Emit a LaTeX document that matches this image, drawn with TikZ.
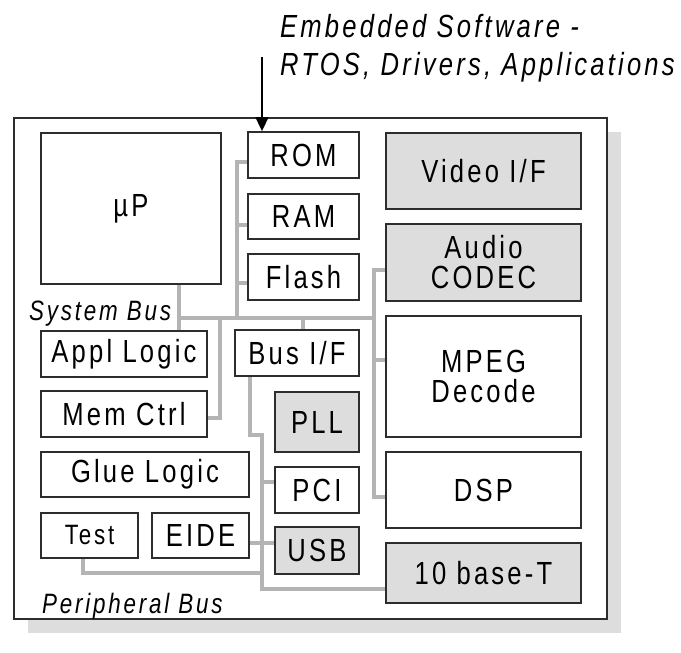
\documentclass[tikz,border=0pt]{standalone}
\usepackage{fontspec}
\setmainfont{Liberation Sans}[FakeStretch=0.8,LetterSpace=10]
\usetikzlibrary{arrows.meta}

\definecolor{boxgray}{RGB}{221,221,221}
\definecolor{busgray}{RGB}{180,180,180}
\definecolor{edgegray}{RGB}{45,45,45}

\tikzset{
	blk/.style={draw=edgegray, line width=1.8pt, fill=white, inner sep=0pt,
		align=center, font=\fontsize{32}{30}\selectfont},
	gblk/.style={blk, fill=boxgray},
	bus/.style={draw=busgray, line width=3.5pt},
	buslabel/.style={inner sep=0pt, anchor=base west,
		font=\fontsize{28}{28}\selectfont\itshape},
	capt/.style={inner sep=0pt, anchor=base west,
		font=\fontsize{32}{32}\selectfont\itshape},
}

\begin{document}
\begin{tikzpicture}[x=1pt, y=-1pt]
	\useasboundingbox (0,0) rectangle (681,653);
	% Chip mit Schatten
	\fill[boxgray] (28,132) rectangle (621,633);
	\filldraw[line width=1.8pt, draw=edgegray, fill=white] (14,118) rectangle
	(607,619);

	% Bloecke links
	\node[blk, minimum width=180pt, minimum height=151pt] (up) at (131,208.5) {µP};
	\node[blk, minimum width=166pt, minimum height=46pt] (appl) at (124,354) {Appl Logic};
	\node[blk, minimum width=166pt, minimum height=46pt] (memctrl) at (124,414) {Mem Ctrl};
	\node[blk, minimum width=208pt, minimum height=45pt] (glue) at (145,474.5) {Glue Logic};
	\node[blk, minimum width=97pt, minimum height=45pt,
		font=\fontsize{28}{28}\selectfont] (test) at (89.5,535.5) {Test};
	\node[blk, minimum width=97pt, minimum height=45pt] (eide) at (200.5,535.5) {EIDE};

	% Bloecke Mitte
	\node[blk, minimum width=111pt, minimum height=46pt] (rom) at (303.5,155) {ROM};
	\node[blk, minimum width=111pt, minimum height=45pt] (ram) at (303.5,216.5) {RAM};
	\node[blk, minimum width=111pt, minimum height=46pt] (flash) at (303.5,277) {Flash};
	\node[blk, minimum width=124pt, minimum height=46pt] (busif) at (297,353) {Bus I/F};
	\node[gblk, minimum width=84pt, minimum height=60pt] (pll) at (317,422) {PLL};
	\node[blk, minimum width=84pt, minimum height=46pt] (pci) at (317,490) {PCI};
	\node[gblk, minimum width=84pt, minimum height=47pt] (usb) at (317,550.5) {USB};

	% Bloecke rechts
	\node[gblk, minimum width=195pt, minimum height=76pt] (video) at (483.5,171) {Video I/F};
	\node[gblk, minimum width=195pt, minimum height=77pt] (audio) at (483.5,262.5) {Audio\\CODEC};
	\node[blk, minimum width=195pt, minimum height=121pt,
		font=\fontsize{32}{30}\selectfont] (mpeg) at (483.5,376.5) {MPEG\\Decode};
	\node[blk, minimum width=195pt, minimum height=76pt] (dsp) at (483.5,490) {DSP};
	\node[gblk, minimum width=195pt, minimum height=60pt] (tenbase) at (483.5,573) {10 base-T};

	% System Bus
	\coordinate (sbw) at (179,318);
	\coordinate (sbe) at (374,318);
	\coordinate (memtap) at (237,318);
	\coordinate (mctap) at (220,318);
	\coordinate (biftap) at (303,318);
	\draw[bus] (up.south -| sbw) -- (appl.north -| sbw);
	\draw[bus] (sbw) -- (sbe);
	\draw[bus] ([yshift=-7pt]rom.west) -| (memtap);
	\draw[bus] ([yshift=-8.5pt]ram.west) -- ([yshift=-8.5pt]ram.west -| memtap);
	\draw[bus] ([yshift=-6pt]flash.west) -- ([yshift=-6pt]flash.west -| memtap);
	\draw[bus] ([yshift=-4pt]memctrl.east) -| (mctap);
	\draw[bus] (biftap) -- (biftap |- busif.north);
	\draw[bus] ([yshift=-7.5pt]audio.west) -| (sbe) |- ([yshift=-7pt]dsp.west);
	\draw[bus] ([yshift=16.5pt]mpeg.west) -- ([yshift=16.5pt]mpeg.west -| sbe);
	\node[buslabel] (sbus) at (29,320) {System Bus};

	% Peripheral Bus
	\coordinate (pbjog) at (262,435);
	\coordinate (pbtest) at (262,573);
	\draw[bus] ([xshift=-47pt]busif.south) |- (pbjog) |- ([yshift=-16pt]tenbase.west);
	\draw[bus] ([yshift=8pt]pci.west) -- ([yshift=8pt]pci.west -| pbjog);
	\draw[bus] ([yshift=-7.5pt]eide.east) -- ([yshift=7.5pt]usb.west);
	\draw[bus] ([xshift=-6.5pt]test.south) |- (pbtest);
	\node[buslabel] (pbus) at (42,613) {Peripheral Bus};

	% Software
	\coordinate (swin) at (262,57);
	\draw[line width=1.6pt, -{Triangle[length=14pt,width=13pt]}] (swin) -- (swin |- rom.north);
	\node[capt] (sw1) at (280,37) {Embedded Software -};
	\node[capt] (sw2) at (280,75) {RTOS, Drivers, Applications};
\end{tikzpicture}
\end{document}
